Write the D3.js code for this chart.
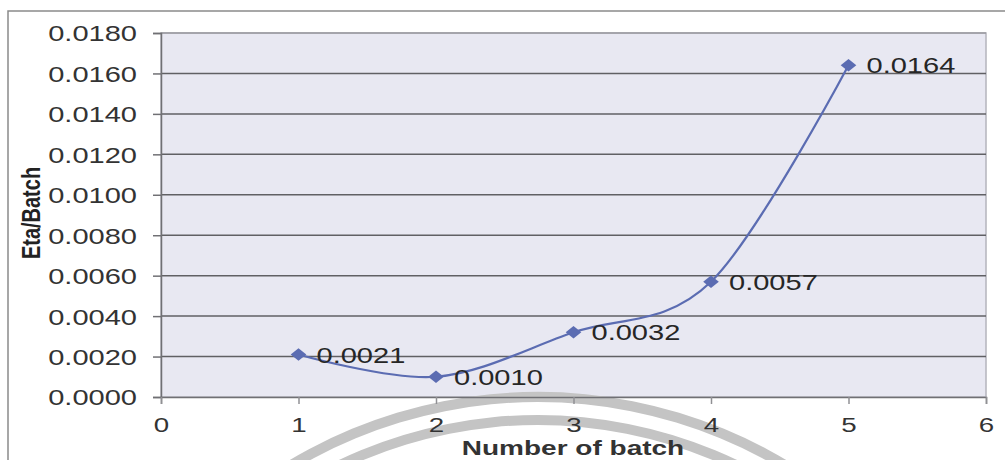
<!DOCTYPE html>
<html>
<head>
<meta charset="utf-8">
<script src="https://cdn.jsdelivr.net/npm/d3@7"></script>
<style>
  body { margin: 0; background: #fff; }
  svg { display: block; font-family: Arial, "Liberation Sans", sans-serif; }
</style>
</head>
<body>
<svg id="chart"></svg>
<script>
const WIDTH = 1005;
const HEIGHT = 460;
const PLOT_LEFT = 161; //y-axis position
const PLOT_RIGHT = 986;
const PLOT_TOP = 33;
const PLOT_BOTTOM = 397; //x-axis position
const STRETCH = 1.32; //the picture is wider than tall, text looks stretched

// data
const batches = [1, 2, 3, 4, 5];
const etaPerBatch = [0.0021, 0.0010, 0.0032, 0.0057, 0.0164];
const pointLabels = ["0.0021", "0.0010", "0.0032", "0.0057", "0.0164"];
const xTicks = [0, 1, 2, 3, 4, 5, 6];
const yTicks = [0, 0.002, 0.004, 0.006, 0.008, 0.010, 0.012, 0.014, 0.016, 0.018];

const svg = d3.select("#chart")
  .attr("width", WIDTH)
  .attr("height", HEIGHT);

const xScale = d3.scaleLinear().domain([0, 6]).range([PLOT_LEFT, PLOT_RIGHT]);
const yScale = d3.scaleLinear().domain([0, 0.018]).range([PLOT_BOTTOM, PLOT_TOP]);

// stretched text helper
function stretchText(sel, x, y) {
  return sel.attr("transform", "translate(" + x + "," + y + ") scale(" + STRETCH + ",1)");
}

// outer chart frame
svg.append("path")
  .attr("d", "M8,460 L8,11 L1005,11")
  .attr("fill", "none")
  .attr("stroke", "#8a8a8a")
  .attr("stroke-width", 1.5);

// plot background
svg.append("rect")
  .attr("x", PLOT_LEFT)
  .attr("y", PLOT_TOP)
  .attr("width", PLOT_RIGHT - PLOT_LEFT)
  .attr("height", PLOT_BOTTOM - PLOT_TOP)
  .attr("fill", "#e8e8f2")
  .attr("stroke", "#b4b4bc")
  .attr("stroke-width", 1.5);

// watermark arcs at the bottom
const arcGen = d3.arc().startAngle(-Math.PI / 2).endAngle(Math.PI / 2);
[{ r: 481, w: 10 }, { r: 458, w: 10 }].forEach(a => {
  svg.append("path")
    .attr("transform", "translate(538,878)")
    .attr("d", arcGen({ innerRadius: a.r - a.w / 2, outerRadius: a.r + a.w / 2 }))
    .attr("fill", "#c4c4c4");
});

// gridlines
svg.append("g")
  .selectAll("line")
  .data(yTicks.filter(d => d > 0))
  .enter()
  .append("line")
  .attr("x1", PLOT_LEFT)
  .attr("x2", PLOT_RIGHT)
  .attr("y1", d => yScale(d))
  .attr("y2", d => yScale(d))
  .attr("stroke", d => d === 0.018 ? "#9a9aa0" : "#606064")
  .attr("stroke-width", 1.5);

// y-axis
const yAxis = svg.append("g")
  .attr("transform", "translate(" + PLOT_LEFT + ",0)")
  .call(d3.axisLeft(yScale).tickValues(yTicks).tickSize(8).tickPadding(16).tickFormat(d3.format(".4f")));
yAxis.select(".domain").attr("stroke", "#707074").attr("stroke-width", 1.5);
yAxis.selectAll(".tick line").attr("stroke", "#707074").attr("stroke-width", 1.5);
yAxis.selectAll(".tick text")
  .attr("fill", "#333")
  .style("font-size", "22px")
  .attr("dy", "0.36em")
  .attr("x", 0)
  .each(function() {
    stretchText(d3.select(this), -24, 0);
  });

// x-axis
const xAxis = svg.append("g")
  .attr("transform", "translate(0," + PLOT_BOTTOM + ")")
  .call(d3.axisBottom(xScale).tickValues(xTicks).tickSize(7).tickPadding(16).tickFormat(d3.format("d")));
xAxis.select(".domain").attr("stroke", "#707074").attr("stroke-width", 1.5);
xAxis.selectAll(".tick line").attr("stroke", "#909094").attr("stroke-width", 1.5);
xAxis.selectAll(".tick text")
  .attr("fill", "#333")
  .style("font-size", "21px")
  .attr("dy", 0)
  .attr("y", 0)
  .each(function() {
    stretchText(d3.select(this), 0, 35);
  });

// axis titles
svg.append("text")
  .attr("transform", "translate(40,213) scale(" + STRETCH + ",1) rotate(-90)")
  .attr("text-anchor", "middle")
  .style("font-size", "20px")
  .style("font-weight", "bold")
  .attr("fill", "#222")
  .text("Eta/Batch");

svg.append("text")
  .attr("transform", "translate(573,455) scale(1.4,1)")
  .attr("text-anchor", "middle")
  .style("font-size", "20px")
  .style("font-weight", "bold")
  .attr("fill", "#333")
  .text("Number of batch");

// series
const points = batches.map((b, i) => ({ x: b, y: etaPerBatch[i], label: pointLabels[i] }));

const line = d3.line()
  .x(d => xScale(d.x))
  .y(d => yScale(d.y))
  .curve(d3.curveCardinal.tension(0));

svg.append("path")
  .datum(points)
  .attr("fill", "none")
  .attr("stroke", "#5b6cb2")
  .attr("stroke-width", 2.2)
  .attr("d", line);

svg.append("g")
  .selectAll("path")
  .data(points)
  .enter()
  .append("path")
  .attr("transform", d => "translate(" + xScale(d.x) + "," + yScale(d.y) + ") scale(1.25,1)")
  .attr("d", d3.symbol(d3.symbolDiamond2, 100))
  .attr("fill", "#5b6cb2");

svg.append("g")
  .selectAll("text")
  .data(points)
  .enter()
  .append("text")
  .each(function(d) {
    stretchText(d3.select(this), xScale(d.x) + 18, yScale(d.y) + 8);
  })
  .style("font-size", "22px")
  .attr("fill", "#262626")
  .text(d => d.label);
</script>
</body>
</html>
